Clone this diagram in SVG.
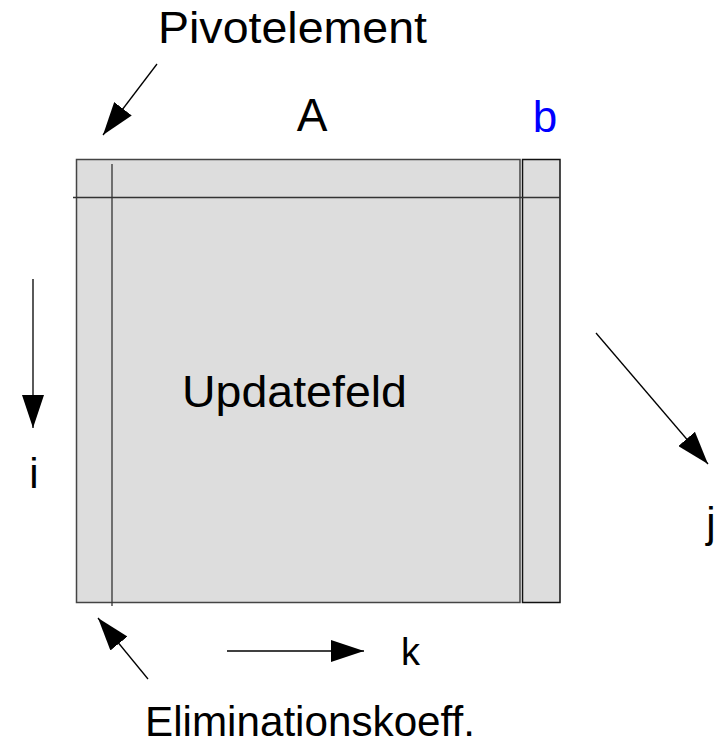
<svg xmlns="http://www.w3.org/2000/svg" width="717" height="744" viewBox="0 0 717 744">
  <style>
    .lbl { font-family: "Liberation Sans", Arial, sans-serif; fill: #000; }
    .conn { stroke: #000; stroke-width: 1.3; fill: none; marker-end: url(#ah); }
    .grid { stroke: #333; stroke-width: 1.3; }
  </style>
  <defs>
    <marker id="ah" markerUnits="userSpaceOnUse" markerWidth="33" markerHeight="22" refX="33" refY="11" orient="auto" viewBox="0 0 33 22">
      <path d="M0,0 L33,11 L0,22 z" fill="#000"/>
    </marker>
  </defs>

  <rect width="717" height="744" fill="#fff"/>

  <!-- matrix A with right-hand side b -->
  <g id="matrix">
    <rect x="76.5" y="159.5" width="443.5" height="443" fill="#dddddd" stroke="#444" stroke-width="1.5"/>
    <rect x="522.5" y="159.5" width="37.5" height="443" fill="#dddddd" stroke="#111" stroke-width="1.5"/>
    <line class="grid" x1="73" y1="197.5" x2="560" y2="197.5"/>
    <line class="grid" x1="112" y1="164" x2="112" y2="606"/>
  </g>

  <g id="label-A"><text class="lbl" x="312" y="131" font-size="46" text-anchor="middle">A</text></g>
  <g id="label-b"><text class="lbl" x="545" y="132" font-size="44" text-anchor="middle" style="fill:#0000ff">b</text></g>
  <g id="label-updatefeld"><text class="lbl" x="182" y="407" font-size="45" textLength="225" lengthAdjust="spacingAndGlyphs">Updatefeld</text></g>
  <g id="label-pivot"><text class="lbl" x="158" y="43" font-size="44" textLength="269" lengthAdjust="spacingAndGlyphs">Pivotelement</text></g>
  <g id="label-elim"><text class="lbl" x="145" y="736" font-size="42" textLength="330" lengthAdjust="spacingAndGlyphs">Eliminationskoeff.</text></g>
  <g id="label-i"><text class="lbl" x="34" y="488" font-size="42" text-anchor="middle">i</text></g>
  <g id="label-j"><text class="lbl" x="711" y="537" font-size="42" text-anchor="middle">j</text></g>
  <g id="label-k"><text class="lbl" x="401" y="665" font-size="38">k</text></g>

  <g id="connectors">
    <line class="conn" x1="157" y1="64" x2="103" y2="135"/>
    <line class="conn" x1="148" y1="679" x2="98" y2="618"/>
    <line class="conn" x1="33" y1="279" x2="33" y2="428"/>
    <line class="conn" x1="227" y1="651" x2="364" y2="651"/>
    <line class="conn" x1="596" y1="333" x2="708" y2="464"/>
  </g>
</svg>
